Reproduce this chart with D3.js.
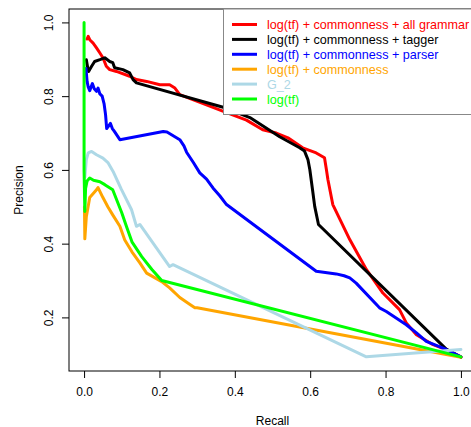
<!DOCTYPE html>
<html><head><meta charset="utf-8">
<script src="https://cdn.jsdelivr.net/npm/d3@7"></script>
<style>body{margin:0;background:#fff;} svg{display:block;}</style>
</head><body>
<svg id="chart" width="471" height="427"></svg>
<script>
const seriesNames = ["log(tf) + commonness + all grammar","log(tf) + commonness + tagger","log(tf) + commonness + parser","log(tf) + commonness","G_2","log(tf)"];
const seriesColors = ["#ff0000","#000000","#0000ff","#ffa500","#add8e6","#00ff00"];
const xTicks = [0,0.2,0.4,0.6,0.8,1.0];
const yTicks = [0.2,0.4,0.6,0.8,1.0];

const redRecall = [0.008,0.011,0.015,0.024,0.033,0.042,0.050,0.059,0.068,0.086,0.121,0.139,0.166,0.201,0.227,0.241,0.254,0.387,0.431,0.474,0.510,0.541,0.580,0.616,0.638,0.643,0.647,0.660,0.705,0.749,0.793,0.837,0.855,0.882,0.926,0.961,1.0];
const redPrec   = [0.955,0.962,0.953,0.944,0.931,0.917,0.904,0.881,0.872,0.867,0.854,0.845,0.840,0.831,0.831,0.822,0.804,0.752,0.735,0.709,0.700,0.687,0.660,0.646,0.633,0.601,0.574,0.506,0.411,0.330,0.266,0.221,0.185,0.153,0.126,0.113,0.093];

const blackRecall = [0.006,0.010,0.012,0.020,0.028,0.042,0.055,0.068,0.076,0.081,0.103,0.121,0.130,0.139,0.369,0.440,0.519,0.572,0.585,0.594,0.599,0.607,0.612,0.622,0.961,1.0];
const blackPrec   = [0.899,0.875,0.867,0.881,0.894,0.899,0.904,0.894,0.891,0.877,0.872,0.863,0.845,0.836,0.770,0.742,0.690,0.660,0.651,0.628,0.601,0.540,0.501,0.452,0.114,0.092];

const blueRecall = [0.005,0.008,0.011,0.015,0.022,0.027,0.033,0.037,0.042,0.048,0.053,0.057,0.060,0.066,0.070,0.075,0.080,0.095,0.210,0.220,0.254,0.265,0.272,0.290,0.307,0.325,0.342,0.360,0.378,0.616,0.669,0.690,0.705,0.722,0.784,0.802,0.855,0.882,0.908,0.961,1.0];
const bluePrec   = [0.875,0.840,0.825,0.815,0.834,0.820,0.813,0.822,0.806,0.800,0.780,0.750,0.712,0.720,0.726,0.712,0.705,0.682,0.704,0.703,0.682,0.665,0.648,0.620,0.592,0.575,0.551,0.530,0.506,0.325,0.318,0.313,0.307,0.293,0.226,0.216,0.180,0.158,0.135,0.113,0.093];

const orangeRecall = [0.001,0.002,0.006,0.015,0.033,0.037,0.050,0.063,0.076,0.095,0.108,0.127,0.148,0.166,0.206,0.227,0.254,0.281,0.294,0.300,1.0];
const orangePrec   = [0.500,0.413,0.473,0.525,0.546,0.552,0.525,0.500,0.478,0.447,0.410,0.378,0.348,0.320,0.297,0.280,0.254,0.235,0.226,0.226,0.092];

const g2Recall = [0.002,0.006,0.011,0.020,0.033,0.050,0.064,0.077,0.099,0.126,0.139,0.148,0.227,0.236,0.749,1.0];
const g2Prec   = [0.580,0.628,0.646,0.650,0.641,0.632,0.619,0.596,0.547,0.492,0.447,0.452,0.338,0.343,0.093,0.113];

const greenRecall = [0,0,0.002,0.004,0.008,0.015,0.025,0.042,0.055,0.076,0.088,0.100,0.113,0.127,0.153,0.180,0.206,1.0];
const greenPrec   = [1.0,0.60,0.487,0.550,0.570,0.578,0.572,0.568,0.560,0.546,0.515,0.484,0.445,0.405,0.365,0.330,0.300,0.093];

const seriesRecall = [redRecall,blackRecall,blueRecall,orangeRecall,g2Recall,greenRecall];
const seriesPrec = [redPrec,blackPrec,bluePrec,orangePrec,g2Prec,greenPrec];

const svg = d3.select("#chart");
const font = "'Liberation Sans', Arial, Helvetica, sans-serif";
const L = 69, R = 476, T = 9, B = 371;
const x = d3.scaleLinear().domain([-0.04, 1.04]).range([L, R]);
const yMin = 0.091, yMax = 1.0, pad = (yMax - yMin) * 0.04;
const y = d3.scaleLinear().domain([yMin - pad, yMax + pad]).range([B, T]);

const line = d3.line().x(d => x(d[0])).y(d => y(d[1]));
seriesRecall.forEach((rx, i) => {
  const pts = rx.map((v, j) => [v, seriesPrec[i][j]]);
  svg.append("path").datum(pts).attr("d", line)
    .attr("fill", "none").attr("stroke", seriesColors[i])
    .attr("stroke-width", 3).attr("stroke-linejoin", "round").attr("stroke-linecap", "round");
});

// axes
const xAxis = d3.axisBottom(x).tickValues(xTicks).tickFormat(d3.format(".1f")).tickSize(7).tickPadding(9);
const gx = svg.append("g").attr("transform", `translate(0,${B})`).call(xAxis);
gx.select(".domain").remove();
gx.selectAll("text").attr("font-size", 12).attr("font-family", font).attr("fill", "#000");
gx.selectAll("line").attr("stroke", "#000");

const yAxis = d3.axisLeft(y).tickValues(yTicks).tickFormat(d3.format(".1f")).tickSize(7).tickPadding(0);
const gy = svg.append("g").attr("transform", `translate(${L},0)`).call(yAxis);
gy.select(".domain").remove();
gy.selectAll("line").attr("stroke", "#000");
gy.selectAll("text").attr("font-size", 12).attr("font-family", font).attr("fill", "#000")
  .attr("x", 0).attr("dy", 0).attr("text-anchor", "middle")
  .attr("transform", "translate(-15.7,0) rotate(-90)");

// frame
svg.append("rect").attr("x", L).attr("y", T).attr("width", R - L).attr("height", B - T)
  .attr("fill", "none").attr("stroke", "#000").attr("stroke-width", 1);

// axis titles
svg.append("text").attr("x", (L + R) / 2).attr("y", 425).attr("text-anchor", "middle")
  .attr("font-size", 12).attr("font-family", font).text("Recall");
svg.append("text").attr("transform", `translate(22.5,${(T + B) / 2}) rotate(-90)`).attr("text-anchor", "middle")
  .attr("font-size", 12).attr("font-family", font).text("Precision");

// legend
const lg = svg.append("g");
lg.append("rect").attr("x", 223.5).attr("y", T).attr("width", R - 223.5).attr("height", 114.5 - T)
  .attr("fill", "#fff").attr("stroke", "#888").attr("stroke-width", 1);
seriesNames.forEach((name, i) => {
  const cy = 24.5 + i * 14.9;
  lg.append("line").attr("x1", 232).attr("x2", 257).attr("y1", cy).attr("y2", cy)
    .attr("stroke", seriesColors[i]).attr("stroke-width", 3);
  lg.append("text").attr("x", 267).attr("y", cy + 4.5).attr("font-size", 12.6).attr("font-family", font)
    .attr("fill", seriesColors[i]).text(name);
});
</script>
</body></html>
